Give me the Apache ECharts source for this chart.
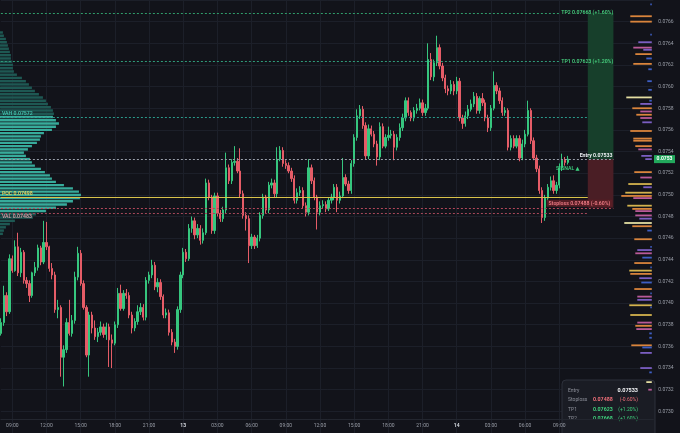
<!DOCTYPE html>
<html><head><meta charset="utf-8">
<script src="https://cdn.jsdelivr.net/npm/echarts@6/dist/echarts.min.js"></script>
<style>html,body{margin:0;padding:0;background:#12131a;}#c{width:680px;height:433px;}</style>
</head><body><div id="c"></div>
<script>
// ---- time axis (15m candles starting day 12 08:00) ----
const START_DAY = 12, START_MIN = 8 * 60, STEP_MIN = 15, SLOT_COUNT = 230;

// ---- trade levels ----
const ENTRY = 0.07533, STOP = 0.07488, TP1 = 0.07623, TP2 = 0.07668;
const VAH = 0.07572, POC = 0.07498, VAL = 0.07483;
const SIGNAL_PRICE = 0.07524;

// ---- OHLC ----
const open = [0.07372,0.07382,0.07407,0.07392,0.07441,0.07430,0.07452,0.07428,0.07447,0.07421,
0.07418,0.07407,0.07428,0.07433,0.07451,0.07438,0.07456,0.07452,0.07432,0.07426,
0.07394,0.07396,0.07350,0.07357,0.07382,0.07372,0.07384,0.07424,0.07446,0.07418,
0.07396,0.07352,0.07389,0.07377,0.07369,0.07373,0.07378,0.07371,0.07378,0.07366,
0.07363,0.07380,0.07409,0.07395,0.07409,0.07407,0.07389,0.07377,0.07383,0.07392,
0.07396,0.07387,0.07421,0.07426,0.07435,0.07415,0.07419,0.07406,0.07389,0.07391,
0.07373,0.07364,0.07360,0.07394,0.07426,0.07447,0.07441,0.07469,0.07476,0.07463,
0.07469,0.07458,0.07465,0.07511,0.07498,0.07467,0.07499,0.07483,0.07478,0.07486,
0.07525,0.07513,0.07530,0.07531,0.07522,0.07501,0.07481,0.07478,0.07453,0.07461,
0.07453,0.07460,0.07481,0.07498,0.07486,0.07509,0.07511,0.07501,0.07533,0.07541,
0.07529,0.07527,0.07522,0.07515,0.07495,0.07502,0.07504,0.07490,0.07484,0.07525,
0.07513,0.07498,0.07484,0.07490,0.07491,0.07487,0.07495,0.07498,0.07507,0.07495,
0.07499,0.07516,0.07510,0.07504,0.07529,0.07553,0.07573,0.07579,0.07564,0.07536,
0.07561,0.07556,0.07547,0.07535,0.07563,0.07545,0.07553,0.07555,0.07556,0.07544,
0.07553,0.07562,0.07571,0.07587,0.07576,0.07571,0.07578,0.07580,0.07585,0.07576,
0.07580,0.07625,0.07609,0.07622,0.07636,0.07619,0.07608,0.07598,0.07596,0.07602,
0.07596,0.07605,0.07571,0.07566,0.07573,0.07579,0.07584,0.07591,0.07578,0.07589,
0.07585,0.07571,0.07562,0.07580,0.07601,0.07596,0.07587,0.07576,0.07578,0.07544,
0.07552,0.07545,0.07552,0.07534,0.07547,0.07556,0.07578,0.07550,0.07534,0.07524,
0.07504,0.07479,0.07497,0.07507,0.07513,0.07504,0.07509,0.07525,0.07532,0.07530];
const close = [0.07382,0.07407,0.07392,0.07441,0.07430,0.07452,0.07428,0.07447,0.07421,0.07418,
0.07407,0.07428,0.07433,0.07451,0.07438,0.07456,0.07452,0.07432,0.07426,0.07394,
0.07396,0.07350,0.07357,0.07382,0.07372,0.07384,0.07424,0.07446,0.07418,0.07396,
0.07352,0.07389,0.07377,0.07369,0.07373,0.07378,0.07371,0.07378,0.07366,0.07363,
0.07380,0.07409,0.07395,0.07409,0.07407,0.07389,0.07377,0.07383,0.07392,0.07396,
0.07387,0.07421,0.07426,0.07435,0.07415,0.07419,0.07406,0.07389,0.07391,0.07373,
0.07364,0.07360,0.07394,0.07426,0.07447,0.07441,0.07469,0.07476,0.07463,0.07469,
0.07458,0.07465,0.07511,0.07498,0.07467,0.07499,0.07483,0.07478,0.07486,0.07525,
0.07513,0.07530,0.07531,0.07522,0.07501,0.07481,0.07478,0.07453,0.07461,0.07453,
0.07460,0.07481,0.07498,0.07486,0.07509,0.07511,0.07501,0.07533,0.07541,0.07529,
0.07527,0.07522,0.07515,0.07495,0.07502,0.07504,0.07490,0.07484,0.07525,0.07513,
0.07498,0.07484,0.07490,0.07491,0.07487,0.07495,0.07498,0.07507,0.07495,0.07499,
0.07516,0.07510,0.07504,0.07529,0.07553,0.07573,0.07579,0.07564,0.07536,0.07561,
0.07556,0.07547,0.07535,0.07563,0.07545,0.07553,0.07555,0.07556,0.07544,0.07553,
0.07562,0.07571,0.07587,0.07576,0.07571,0.07578,0.07580,0.07585,0.07576,0.07580,
0.07625,0.07609,0.07622,0.07636,0.07619,0.07608,0.07598,0.07596,0.07602,0.07596,
0.07605,0.07571,0.07566,0.07573,0.07579,0.07584,0.07591,0.07578,0.07589,0.07585,
0.07571,0.07562,0.07580,0.07601,0.07596,0.07587,0.07576,0.07578,0.07544,0.07552,
0.07545,0.07552,0.07534,0.07547,0.07556,0.07578,0.07550,0.07534,0.07524,0.07504,
0.07479,0.07497,0.07507,0.07513,0.07504,0.07509,0.07525,0.07532,0.07530,0.07533];
const low = [0.07370,0.07379,0.07388,0.07390,0.07428,0.07429,0.07425,0.07424,0.07418,0.07414,
0.07401,0.07405,0.07425,0.07430,0.07435,0.07436,0.07449,0.07429,0.07422,0.07391,
0.07386,0.07332,0.07323,0.07354,0.07370,0.07369,0.07381,0.07421,0.07416,0.07394,
0.07350,0.07332,0.07372,0.07366,0.07364,0.07370,0.07368,0.07366,0.07341,0.07340,
0.07361,0.07377,0.07393,0.07393,0.07404,0.07386,0.07372,0.07374,0.07380,0.07389,
0.07384,0.07384,0.07418,0.07423,0.07412,0.07410,0.07403,0.07386,0.07386,0.07370,
0.07361,0.07354,0.07357,0.07391,0.07423,0.07438,0.07439,0.07465,0.07459,0.07460,
0.07454,0.07455,0.07463,0.07495,0.07464,0.07464,0.07480,0.07475,0.07475,0.07483,
0.07510,0.07510,0.07527,0.07520,0.07498,0.07478,0.07467,0.07437,0.07450,0.07450,
0.07451,0.07457,0.07478,0.07483,0.07483,0.07506,0.07498,0.07498,0.07531,0.07526,
0.07524,0.07520,0.07512,0.07492,0.07492,0.07499,0.07487,0.07480,0.07481,0.07510,
0.07495,0.07468,0.07481,0.07487,0.07484,0.07485,0.07492,0.07495,0.07484,0.07492,
0.07497,0.07508,0.07501,0.07501,0.07526,0.07550,0.07570,0.07561,0.07533,0.07533,
0.07554,0.07544,0.07527,0.07532,0.07543,0.07543,0.07550,0.07552,0.07532,0.07541,
0.07550,0.07559,0.07568,0.07573,0.07568,0.07568,0.07575,0.07578,0.07573,0.07573,
0.07578,0.07606,0.07605,0.07619,0.07616,0.07605,0.07594,0.07592,0.07593,0.07592,
0.07593,0.07568,0.07561,0.07563,0.07570,0.07577,0.07581,0.07575,0.07575,0.07582,
0.07568,0.07558,0.07559,0.07578,0.07593,0.07584,0.07573,0.07573,0.07541,0.07541,
0.07543,0.07543,0.07531,0.07532,0.07544,0.07554,0.07547,0.07532,0.07521,0.07501,
0.07474,0.07476,0.07494,0.07504,0.07501,0.07501,0.07506,0.07522,0.07527,0.07528];
const high = [0.07386,0.07416,0.07410,0.07445,0.07444,0.07458,0.07465,0.07451,0.07449,0.07424,
0.07421,0.07429,0.07438,0.07454,0.07453,0.07476,0.07475,0.07453,0.07437,0.07429,
0.07403,0.07398,0.07361,0.07386,0.07403,0.07389,0.07429,0.07452,0.07449,0.07421,
0.07398,0.07392,0.07392,0.07384,0.07377,0.07383,0.07381,0.07382,0.07381,0.07371,
0.07383,0.07414,0.07417,0.07412,0.07413,0.07410,0.07392,0.07386,0.07398,0.07400,
0.07399,0.07424,0.07429,0.07440,0.07438,0.07423,0.07422,0.07408,0.07395,0.07394,
0.07376,0.07367,0.07397,0.07429,0.07451,0.07450,0.07473,0.07480,0.07479,0.07473,
0.07472,0.07469,0.07515,0.07514,0.07500,0.07502,0.07502,0.07486,0.07489,0.07539,
0.07528,0.07533,0.07545,0.07534,0.07543,0.07504,0.07484,0.07481,0.07464,0.07463,
0.07463,0.07484,0.07501,0.07500,0.07512,0.07515,0.07514,0.07544,0.07545,0.07544,
0.07532,0.07530,0.07525,0.07518,0.07506,0.07508,0.07507,0.07493,0.07533,0.07528,
0.07516,0.07500,0.07494,0.07495,0.07494,0.07498,0.07501,0.07510,0.07510,0.07503,
0.07534,0.07519,0.07513,0.07532,0.07556,0.07579,0.07583,0.07582,0.07567,0.07565,
0.07564,0.07559,0.07550,0.07567,0.07566,0.07556,0.07563,0.07560,0.07559,0.07556,
0.07566,0.07575,0.07590,0.07590,0.07578,0.07581,0.07584,0.07589,0.07588,0.07584,
0.07640,0.07631,0.07625,0.07647,0.07639,0.07622,0.07611,0.07601,0.07606,0.07605,
0.07609,0.07608,0.07574,0.07577,0.07583,0.07588,0.07595,0.07594,0.07591,0.07594,
0.07588,0.07574,0.07583,0.07614,0.07604,0.07599,0.07590,0.07581,0.07580,0.07555,
0.07555,0.07555,0.07555,0.07551,0.07560,0.07587,0.07580,0.07553,0.07537,0.07527,
0.07507,0.07500,0.07510,0.07517,0.07518,0.07512,0.07529,0.07538,0.07535,0.07536];

// ---- left volume profile (price bin centre, volume) ----
const PROFILE_BIN = 0.00003;
const profilePrice = [0.07650,
0.07647,0.07644,0.07641,0.07638,0.07635,0.07632,0.07629,0.07626,0.07623,0.07620,
0.07617,0.07614,0.07611,0.07608,0.07605,0.07602,0.07599,0.07596,0.07593,0.07590,
0.07587,0.07584,0.07581,0.07578,0.07575,0.07572,0.07569,0.07566,0.07563,0.07560,
0.07557,0.07554,0.07551,0.07548,0.07545,0.07542,0.07539,0.07536,0.07533,0.07530,
0.07527,0.07524,0.07521,0.07518,0.07515,0.07512,0.07509,0.07506,0.07503,0.07500,
0.07497,0.07494,0.07491,0.07488,0.07485,0.07482,0.07479,0.07476,0.07473,0.07470,
0.07467,0.07464];
const profileVol = [2,
3,5,6,7,8,9,10,10,11,12,
12,13,16,21,25,28,31,34,38,42,
45,47,50,52,53,52,55,58,55,51,
43,40,39,36,31,27,23,25,29,31,
34,40,44,49,51,55,63,72,78,80,
79,72,66,55,45,35,32,14,9,5,
3,2];

// ---- right side volume-at-price bars ----
const sidePrice = [0.07676,0.07665,0.07660,0.07648,0.07641,0.07636,0.07634,0.07630,0.07626,0.07621,
0.07616,0.07605,0.07597,0.07590,0.07587,0.07584,0.07580,0.07577,0.07574,0.07571,
0.07567,0.07559,0.07552,0.07550,0.07545,0.07542,0.07536,0.07533,0.07521,0.07516,
0.07510,0.07507,0.07502,0.07499,0.07497,0.07490,0.07487,0.07485,0.07481,0.07478,
0.07474,0.07471,0.07467,0.07459,0.07452,0.07449,0.07446,0.07442,0.07437,0.07433,
0.07430,0.07427,0.07423,0.07419,0.07413,0.07409,0.07406,0.07403,0.07398,0.07396,
0.07389,0.07382,0.07379,0.07376,0.07372,0.07368,0.07361,0.07359,0.07354,0.07340,
0.07336,0.07327,0.07320];
const sideVol = [3,23,23,3,15,20,10,18,7,20,
5,6,5,27,4,13,21,13,17,13,
11,23,20,20,18,15,12,8,19,13,
25,10,28,32,20,26,21,18,18,14,
29,21,6,19,3,16,18,11,19,3,
24,23,14,12,19,3,16,16,24,3,
23,16,18,17,4,4,22,11,13,13,
4,7,5];
const sideKind = ['blue','orange','orange','blue','purple','pink','purple','orange','blue','orange',
'blue','blue','blue','light','blue','purple','orange','pink','orange','pink',
'purple','orange','orange','orange','orange','pink','purple','purple','orange','pink',
'yellow','purple','yellow','orange','pink','yellow','orange','pink','pink','purple',
'light','orange','blue','orange','blue','purple','pink','blue','orange','blue',
'yellow','orange','purple','blue','orange','blue','pink','purple','yellow','blue',
'yellow','pink','orange','pink','blue','blue','orange','blue','purple','purple',
'blue','light','pink'];

const SIDE_COLORS = {orange:'#d9843c', yellow:'#d3b24e', light:'#e4dea2', pink:'#b95a98', purple:'#7b5ec2', blue:'#3e5fc4'};
const AXIS_PX = 652;

function pad(n){ return (n < 10 ? '0' : '') + n; }
const slots = [];
for (let i = 0; i < SLOT_COUNT; i++) {
  const m = START_MIN + i * STEP_MIN;
  const d = START_DAY + Math.floor(m / 1440);
  const mm = m % 1440;
  slots.push(d + ' ' + pad(Math.floor(mm / 60)) + ':' + pad(mm % 60));
}
function isMajor(idx, val) {
  if (idx >= open.length) return false;
  const hm = val.split(' ')[1].split(':').map(Number);
  return hm[1] === 0 && hm[0] % 3 === 0;
}
const candles = open.map((o, i) => [o, close[i], low[i], high[i]]);
const FONT = 'Roboto, "DejaVu Sans", sans-serif';
const CLEAR = 'rgba(0,0,0,0)';

const chart = echarts.init(document.getElementById('c'));
const option = {
  backgroundColor: '#12131a',
  animation: false,
  textStyle: { fontFamily: FONT },
  grid: { left: 0.9, right: 26.7, top: -0.8, bottom: -2.0 },
  xAxis: [
    { type: 'category', data: slots, boundaryGap: false, offset: -13.3,
      axisLine: { show: true, lineStyle: { color: '#23262f' } },
      axisTick: { show: false },
      axisLabel: { interval: isMajor, color: '#9a9ea8', fontSize: 5, margin: 4, fontFamily: FONT,
        formatter: v => { const p = v.split(' '); return p[1] === '00:00' ? '{d|' + p[0] + '}' : p[1]; },
        rich: { d: { fontWeight: 'bold', color: '#d6d9e0', fontSize: 5, fontFamily: FONT } } },
      splitLine: { show: true, interval: isMajor, lineStyle: { color: '#1c1f29', width: 1 } } },
    { type: 'value', min: 0, max: AXIS_PX, show: false, position: 'top' },
    { type: 'value', min: 0, max: AXIS_PX, inverse: true, show: false, position: 'top' }
  ],
  yAxis: { type: 'value', position: 'right', min: 0.0728, max: 0.0768, interval: 0.0002, scale: true,
    axisLine: { show: false }, axisTick: { show: false },
    axisLabel: { color: '#9a9ea8', fontSize: 5, margin: 5, fontFamily: FONT, showMinLabel: false, showMaxLabel: false,
      formatter: v => v.toFixed(4) },
    splitLine: { show: true, lineStyle: { color: '#1c1f29', width: 1 } } },
  series: [
    { type: 'candlestick', data: candles, barWidth: 1.8, z: 2,
      itemStyle: { color: '#36c67e', color0: '#e55c67', borderColor: '#36c67e', borderColor0: '#e55c67', borderWidth: 1 },
      markArea: { silent: true, data: [
        [ { coord: [206, TP2], itemStyle: { color: '#173f2b' } }, { coord: [215, ENTRY] } ],
        [ { coord: [206, ENTRY], itemStyle: { color: '#4a1e25' } }, { coord: [215, STOP] } ]
      ] },
      markLine: { silent: true, symbol: ['none', 'none'], data: [
        [ { coord: [0, TP2], lineStyle: { color: '#2f9c6a', type: [2, 2], width: 1 },
            label: { show: true, position: 'end', distance: 2, formatter: 'TP2 ' + TP2.toFixed(5) + ' (+1.60%)', color: '#47d17f', fontSize: 5.2, fontWeight: 600, fontFamily: FONT } },
          { coord: [196, TP2] } ],
        [ { coord: [0, TP1], lineStyle: { color: '#2f9c7a', type: [2, 2], width: 1 },
            label: { show: true, position: 'end', distance: 2, formatter: 'TP1 ' + TP1.toFixed(5) + ' (+1.20%)', color: '#47d17f', fontSize: 5.2, fontWeight: 600, fontFamily: FONT } },
          { coord: [196, TP1] } ],
        [ { coord: [0, VAH], lineStyle: { color: '#2a9a8b', type: [2, 2], width: 1 }, label: { show: false } },
          { coord: [206, VAH] } ],
        [ { coord: [0, ENTRY], lineStyle: { color: '#9aa0ac', type: [2, 2], width: 1 },
            label: { show: true, position: 'insideEndTop', distance: 1, formatter: 'Entry ' + ENTRY.toFixed(5), color: '#eceef2', fontSize: 5.2, fontWeight: 'bold', fontFamily: FONT } },
          { coord: [215, ENTRY] } ],
        [ { coord: [0, STOP], lineStyle: { color: '#b3475a', type: [2, 2], width: 1 },
            label: { show: true, position: 'insideEndTop', distance: 1, formatter: 'Stoploss ' + STOP.toFixed(5) + ' (-0.60%)', color: '#f07c86', fontSize: 5.2, fontWeight: 600, fontFamily: FONT, backgroundColor: 'rgba(92,30,38,0.9)', padding: [1, 2] } },
          { coord: [215, STOP] } ],
        [ { coord: [0, VAL], lineStyle: { color: '#a4475a', type: [2, 2], width: 1 }, label: { show: false } },
          { coord: [206, VAL] } ]
      ] },
      markPoint: { silent: true, symbol: 'circle', symbolSize: 0, data: [
        { coord: [199, SIGNAL_PRICE], label: { show: true, position: 'inside', formatter: 'SIGNAL ▲', color: '#3ccf7e', fontSize: 5.2, fontWeight: 600, fontFamily: FONT } }
      ] } },
    { type: 'custom', xAxisIndex: 1, yAxisIndex: 0, z: 3, clip: false, silent: true,
      data: profileVol.map((v, i) => [v, profilePrice[i]]),
      encode: { x: 0, y: 1 },
      renderItem: (params, api) => {
        const vol = api.value(0), price = api.value(1);
        const a = api.coord([0, price]), b = api.coord([vol, price]);
        const h = api.size([0, PROFILE_BIN])[1];
        const inVA = price >= VAL - 0.000005 && price <= VAH + 0.000005;
        return { type: 'rect', shape: { x: a[0] - 1, y: a[1] - h / 2 + 0.4, width: b[0] - a[0] + 1, height: h - 0.8 },
          style: { fill: inVA ? '#37ab9b' : '#1e5853' } };
      } },
    { type: 'custom', xAxisIndex: 2, yAxisIndex: 0, z: 3, clip: false, silent: true,
      data: sideVol.map((v, i) => [v, sidePrice[i], i]),
      encode: { x: 0, y: 1 },
      renderItem: (params, api) => {
        const vol = api.value(0), price = api.value(1), k = sideKind[api.value(2)];
        const a = api.coord([0, price]), b = api.coord([vol, price]);
        return { type: 'rect', shape: { x: b[0], y: a[1] - 0.9, width: a[0] - b[0] - 1.5, height: 1.8 },
          style: { fill: SIDE_COLORS[k] } };
      } },
    { type: 'line', data: [], z: 4, silent: true,
      markLine: { silent: true, symbol: ['none', 'none'], data: [
        [ { coord: [0, POC], lineStyle: { color: '#d9c34a', type: 'solid', width: 1.2 },
            label: { show: true, position: 'insideStartTop', distance: 1, formatter: 'POC ' + POC.toFixed(5), color: '#e4d05e', fontSize: 5.2, fontWeight: 600, fontFamily: FONT } },
          { coord: [206, POC] } ],
        [ { coord: [0, VAH], lineStyle: { color: CLEAR, width: 1 },
            label: { show: true, position: 'insideStartTop', distance: 1, formatter: 'VAH ' + VAH.toFixed(5), color: '#44c2ae', fontSize: 5.2, fontWeight: 600, fontFamily: FONT } },
          { coord: [20, VAH] } ],
        [ { coord: [0, VAL], lineStyle: { color: CLEAR, width: 1 },
            label: { show: true, position: 'insideStartBottom', distance: 1, formatter: 'VAL ' + VAL.toFixed(5), color: '#d29aa2', fontSize: 5.2, fontWeight: 600, fontFamily: FONT } },
          { coord: [20, VAL] } ]
      ] } }
  ]
};
chart.setOption(option);

const lastPrice = close[close.length - 1];
const py = chart.convertToPixel({ yAxisIndex: 0 }, lastPrice);
const T = (x, y, text, fill, extra) => Object.assign({ type: 'text', x: x, y: y,
  style: Object.assign({ text: text, fill: fill, font: '5px ' + FONT, verticalAlign: 'middle' }, extra || {}) });
chart.setOption({ graphic: [
  { type: 'rect', z: 100, shape: { x: 654, y: py - 4, width: 21, height: 8 }, style: { fill: '#22a95c' } },
  { type: 'text', z: 101, x: 664.5, y: py, style: { text: lastPrice.toFixed(4), fill: '#ffffff', font: 'bold 5px ' + FONT, align: 'center', verticalAlign: 'middle' } },
  { type: 'group', x: 562, y: 380, z: 50, children: [
    { type: 'rect', shape: { x: 0, y: 0, width: 93, height: 60, r: 4 }, style: { fill: '#1a1c24', stroke: '#2d303b', lineWidth: 1 } },
    T(6, 10.7, 'Entry', '#8d909a'),
    T(76, 10.7, ENTRY.toFixed(5), '#f0f1f4', { align: 'right', font: 'bold 5.5px ' + FONT }),
    T(6, 20, 'Stoploss', '#8d909a'),
    T(31, 20, STOP.toFixed(5), '#ef6f79', { font: 'bold 5.3px ' + FONT }),
    T(76, 20, '(-0.60%)', '#ef6f79', { align: 'right' }),
    T(6, 29.3, 'TP1', '#8d909a'),
    T(31, 29.3, TP1.toFixed(5), '#3fcf7c', { font: 'bold 5.3px ' + FONT }),
    T(76, 29.3, '(+1.20%)', '#3fcf7c', { align: 'right' }),
    T(6, 39, 'TP2', '#8d909a'),
    T(31, 39, TP2.toFixed(5), '#3fcf7c', { font: 'bold 5.3px ' + FONT }),
    T(76, 39, '(+1.60%)', '#3fcf7c', { align: 'right' })
  ] }
] });
</script>
</body></html>
